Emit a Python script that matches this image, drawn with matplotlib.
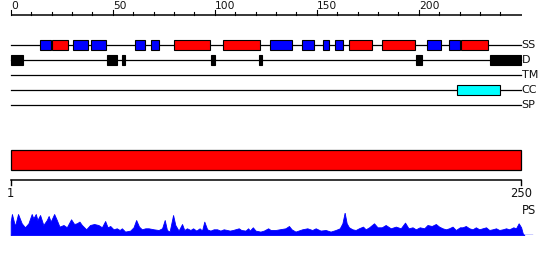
import matplotlib
matplotlib.use('Agg')
import matplotlib.pyplot as plt
from matplotlib.patches import Rectangle

# protein length and feature tracks (residue ranges)
seq_len = 250
track_names = ['SS', 'D', 'TM', 'CC', 'SP']
helix = [(20, 28), (80, 97.5), (104, 122), (166, 177.3), (182, 198), (220.7, 234)]
strand = [(14.5, 19.6), (30.7, 37.8), (39.6, 46.7), (60.7, 65.8), (68.6, 72.7),
          (127, 138), (142.7, 148.8), (153, 156.2), (159, 163), (204, 211), (215, 220)]
disorder = [(0, 5.9), (47.3, 52.2), (54.7, 56.2), (98.4, 100.2), (121.5, 123),
            (198.6, 201.5), (235, 250)]
coiled = [(218.9, 240)]
domains = [(0, 250)]

ruler_ticks = list(range(0, 250, 10))
ruler_labels = [0, 50, 100, 150, 200]

# PS profile (position, score)
ps_pos = [0, 0.6, 2.1, 3.6, 5.4, 7.0, 8.7, 10.3, 11.1, 12.3, 13.1, 14.4, 16.0, 17.7, 18.6,
          19.6, 21.3, 22.6, 23.9, 25.9, 27.5, 29.6, 31.1, 32.4, 33.7, 34.9, 37.0, 38.9, 40.9,
          43.0, 44.7, 46.3, 47.5, 48.8, 50.4, 52.0, 53.4, 54.5, 56.1, 58.6, 60.2, 61.5, 62.9,
          64.3, 66.0, 67.6, 70.1, 72.5, 74.2, 75.5, 76.6, 77.9, 79.6, 80.7, 82.3, 84.0, 85.1,
          86.4, 88.1, 89.4, 91.0, 92.6, 93.8, 94.9, 96.3, 97.9, 99.5, 101.2, 102.8, 104.4,
          106.1, 107.4, 108.9, 111.8, 113.0, 115.1, 116.4, 117.2, 118.7, 120.0, 122.4, 124.1,
          126.2, 127.4, 129.8, 134.7, 136.4, 137.7, 139.6, 142.9, 145.4, 147.8, 149.5, 151.9,
          154.4, 156.8, 159.3, 161.3, 162.6, 163.7, 164.7, 165.8, 167.5, 169.1, 170.7, 172.7,
          174.0, 175.7, 178.1, 179.8, 181.9, 183.8, 186.3, 188.8, 191.2, 193.3, 195.0, 197.0,
          198.6, 200.5, 202.7, 204.3, 206.4, 208.4, 210.0, 211.7, 213.3, 214.9, 216.6, 218.2,
          220.2, 221.5, 223.1, 224.8, 226.4, 228.0, 229.7, 231.3, 233.0, 234.6, 236.2, 237.9,
          239.5, 241.2, 242.8, 244.4, 246.4, 247.7, 249.0, 250.2, 251.0, 251.8]
ps_val = [14, 21.3, 9.3, 21.3, 12, 8, 12, 21.3, 17, 21.3, 15.3, 20.3, 10.3, 15.3, 19.3,
          13.7, 21.3, 15.3, 8.7, 10.3, 8, 16, 11.3, 12, 13.7, 10.3, 6, 10.3, 11.3,
          10.3, 8, 14.3, 8, 9.3, 6, 7, 5.3, 7, 3.7, 4.7, 8, 15.3, 8.7,
          6, 7, 7, 6, 5.3, 7, 15.3, 5.3, 3.7, 20.3, 10.3, 4.7, 11.3, 5.3,
          7, 5.3, 7, 4.7, 7, 4.7, 13.7, 6, 4.7, 6, 6, 4.7, 6,
          5.3, 4.7, 5.3, 7, 5.3, 4.7, 7, 4.7, 8, 4.7, 3.7, 4.7,
          7, 5.3, 5.3, 7, 9.3, 6, 3.7, 6, 7, 5.3, 7, 4.7,
          5.3, 3.7, 5.3, 7, 12, 22.7, 12, 8, 6, 5.3, 7, 8.7,
          6, 8, 12, 8, 8, 10.3, 7, 8.7, 7, 12.7, 7, 8,
          6, 8, 7, 10.3, 9.3, 11.3, 8.7, 7, 6, 7, 8.7, 5.3,
          8, 8, 9.3, 7, 6, 8, 6, 7, 8, 5.3, 6, 7,
          5.3, 6, 7, 6, 8, 7, 12, 8, 2, 0]

px_per_res = 2.04
x0_px = 10.7
W, H = 550, 260
fig = plt.figure(figsize=(W / 100, H / 100), dpi=100)
ax = fig.add_axes([0, 0, 1, 1])
ax.set_xlim(-x0_px / px_per_res, (W - x0_px) / px_per_res)
ax.set_ylim(H, 0)
ax.axis('off')

fs = 8
txt = '#111111'

# top ruler
ax.plot([0, seq_len + 0.5], [15, 15], color='black', lw=1.1, solid_capstyle='butt')
for t in ruler_ticks:
    top = 10 if t in ruler_labels else 12.3
    ax.plot([t, t], [top, 15], color='black', lw=0.8)
for t in ruler_labels:
    ax.text(t + 0.3, 11, str(t), fontsize=7.7, color=txt, ha='left', va='bottom')

# feature tracks
track_y = [45, 60.3, 75.3, 90.3, 105.3]
for name, y in zip(track_names, track_y):
    ax.plot([0, seq_len], [y, y], color='black', lw=0.9, zorder=1)
    ax.text(seq_len + 0.4, y, name, fontsize=fs, color=txt, ha='left', va='center')


def boxes(ranges, y, color, h=10):
    for a, b in ranges:
        ax.add_patch(Rectangle((a, y - h / 2), b - a, h, facecolor=color,
                               edgecolor='black', lw=0.8, zorder=2))


boxes(strand, track_y[0], '#0000ff')
boxes(helix, track_y[0], '#ff0000')
boxes(disorder, track_y[1], 'black')
boxes(coiled, track_y[3], '#00ffff')

# domain bar
for a, b in domains:
    ax.add_patch(Rectangle((a, 150), b - a, 20, facecolor='#ff0000',
                           edgecolor='black', lw=0.9, zorder=2))

# bottom scale
ax.plot([0, seq_len], [180.3, 180.3], color='black', lw=1.1)
for t in [0, seq_len]:
    ax.plot([t, t], [180.3, 185], color='black', lw=1.0)
ax.text(0, 187, '1', fontsize=fs + 0.3, color=txt, ha='center', va='top')
ax.text(seq_len, 187, str(seq_len), fontsize=fs + 0.3, color=txt, ha='center', va='top')
ax.text(seq_len + 0.5, 211, 'PS', fontsize=fs + 0.3, color=txt, ha='left', va='center')

# profile
base_y = 235.3
ps_h = 22.3
ax_ps = fig.add_axes([0, (H - base_y) / H, 1, ps_h / H])
ax_ps.set_xlim(ax.get_xlim())
ax_ps.set_ylim(0, ps_h)
ax_ps.axis('off')
ax_ps.fill_between(ps_pos, 0, ps_val, color='#0000ff', lw=0.6, edgecolor='#0000ff')
ax_ps.plot([0, 255.5], [0.3, 0.3], color='#0000ff', lw=1.0)

fig.savefig('out.png', dpi=100)
